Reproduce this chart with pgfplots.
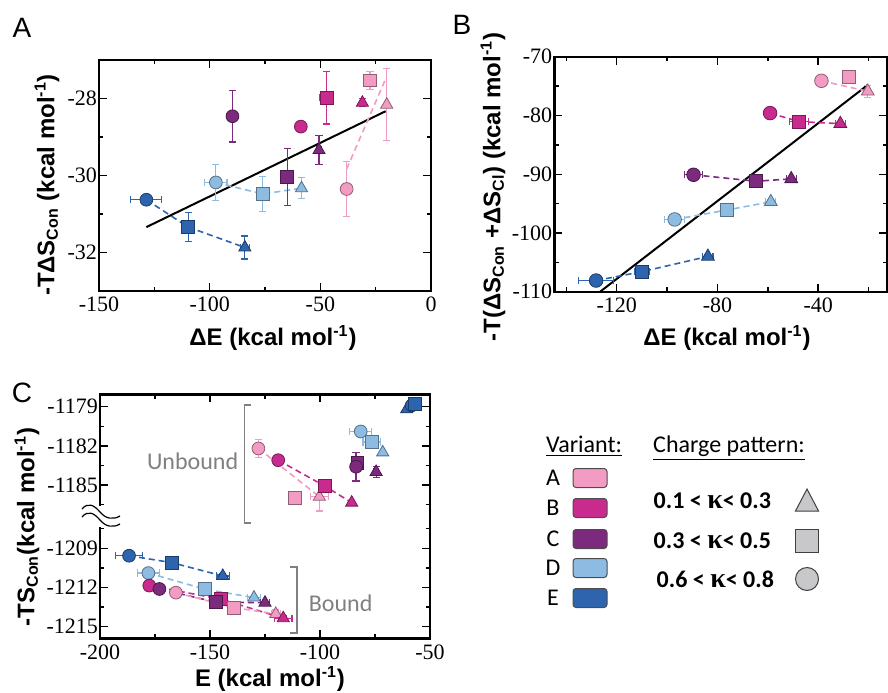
\documentclass[border=0pt]{standalone}
\usepackage{fontspec}
\setmainfont{Liberation Serif}
\setsansfont{Liberation Sans}
\newfontfamily\calib{Carlito}
\newfontfamily\tms{Liberation Serif}
\usepackage{pgfplots}
\pgfplotsset{compat=1.18}

\definecolor{cA}{HTML}{F29BC3}
\definecolor{cB}{HTML}{C82A8E}
\definecolor{cC}{HTML}{7B2A7E}
\definecolor{cD}{HTML}{8DBBE2}
\definecolor{cE}{HTML}{2D64AD}
\definecolor{lgray}{HTML}{C8C8CA}

% pixel position of the reference -> picture coordinates
\newcommand\px[2]{({(#1)*0.5pt},{(692-(#2))*0.5pt})}

\pgfplotsset{
  panel/.style={scale only axis, anchor=south west, clip=false,
    axis line style={line width=1.2pt},
    tick align=inside, major tick length=4pt, minor tick length=2.2pt,
    every tick/.style={black, line width=0.7pt},
    tick label style={font=\tms\fontsize{11}{12}\selectfont},
    yticklabel style={xshift=2.5pt}, xticklabel style={yshift=0.5pt}},
  mk/.style={only marks, color=#1, mark size=3.2pt,
    mark options={fill=#1, draw=#1!60!black, line width=0.4pt},
    error bars/x dir=both, error bars/x explicit,
    error bars/y dir=both, error bars/y explicit,
    error bars/error bar style={#1, line width=0.6pt},
    error bars/error mark options={#1, rotate=90, mark size=1.8pt, line width=0.6pt}},
  ln/.style={#1, line width=0.8pt, dash pattern=on 3pt off 2pt, mark=none},
  up/.style={y filter/.expression={y-19.15}},
}
\tikzset{lab/.style={font=\sffamily\bfseries\fontsize{12}{14}\selectfont}}

\begin{document}
\begin{tikzpicture}
\useasboundingbox (0,0) rectangle (444pt,346pt);

% ---------------- panel A
\begin{axis}[panel, at={(49.5pt,200.5pt)}, width=166pt, height=115.5pt,
  xmin=-150, xmax=0, ymin=-33, ymax=-27,
  xtick={-150,-100,-50,0}, xticklabels={-150,-100,-50,0}, minor xtick={-125,-75,-25},
  ytick={-32,-30,-28}, yticklabels={-32,-30,-28}, minor ytick={-31,-29}]
\addplot[black, line width=1pt] coordinates {(-128.6,-31.34) (-20.5,-28.33)};
\addplot[ln=cE] coordinates {(-128.6,-30.63) (-109.7,-31.34) (-84.1,-31.87)};
\addplot[ln=cD] coordinates {(-97.2,-30.18) (-76.1,-30.48) (-58.5,-30.33)};
\addplot[ln=cA] coordinates {(-38.1,-29.83) (-20.8,-27.53)};
\addplot[mk=cE, mark=*] coordinates {(-128.6,-30.63) +- (7,0)};
\addplot[mk=cE, mark=square*] coordinates {(-109.7,-31.34) +- (1.5,0.37)};
\addplot[mk=cE, mark=triangle*, mark size=3.5pt] coordinates {(-84.1,-31.87) +- (2,0.30)};
\addplot[mk=cD, mark=*] coordinates {(-97.2,-30.18) +- (5,0.47)};
\addplot[mk=cD, mark=square*] coordinates {(-76.1,-30.48) +- (0,0.46)};
\addplot[mk=cD, mark=triangle*, mark size=3.5pt] coordinates {(-58.5,-30.33) +- (0,0.27)};
\addplot[mk=cC, mark=*] coordinates {(-89.7,-28.46) +- (2,0.67)};
\addplot[mk=cC, mark=square*] coordinates {(-65,-30.03) +- (1,0.74)};
\addplot[mk=cC, mark=triangle*, mark size=3.5pt] coordinates {(-50.6,-29.34) +- (1,0.38)};
\addplot[mk=cB, mark=*] coordinates {(-58.8,-28.73) +- (1.5,0)};
\addplot[mk=cB, mark=square*] coordinates {(-47.2,-27.98) +- (3,0.68)};
\addplot[mk=cB, mark=triangle*, mark size=3.5pt] coordinates {(-31,-28.11) +- (1,0.1)};
\addplot[mk=cA, mark=*] coordinates {(-38.1,-30.35) +- (0,0.71)};
\addplot[mk=cA, mark=square*] coordinates {(-27.6,-27.53) +- (0,0.24)};
\addplot[mk=cA, mark=triangle*, mark size=3.5pt] coordinates {(-20,-28.16) +- (0,0.94)};
\end{axis}

% ---------------- panel B
\begin{axis}[panel, at={(277.15pt,200.15pt)}, width=166.3pt, height=117.5pt,
  xmin=-144.8, xmax=-12.7, ymin=-110, ymax=-70,
  xtick={-120,-80,-40}, xticklabels={-120,-80,-40}, minor xtick={-140,-100,-60,-20},
  ytick={-110,-100,-90,-80,-70}, yticklabels={-110,-100,-90,-80,-70},
  minor ytick={-105,-95,-85,-75}]
\addplot[black, line width=1pt] coordinates {(-126.6,-110) (-20.3,-74.8)};
\addplot[ln=cA] coordinates {(-38.7,-74.1) (-20.3,-75.9)};
\addplot[ln=cB] coordinates {(-59.1,-79.6) (-47.6,-81.05) (-31.2,-81.4)};
\addplot[ln=cC] coordinates {(-89.5,-90.1) (-64.7,-91.2) (-50.7,-90.8)};
\addplot[ln=cD] coordinates {(-97,-97.7) (-76.3,-96.1) (-58.8,-94.7)};
\addplot[ln=cE] coordinates {(-128.2,-108.1) (-110.1,-106.6) (-83.8,-104)};
\addplot[mk=cA, mark=*, mark size=3.4pt] coordinates {(-38.7,-74.1) +- (0,0)};
\addplot[mk=cA, mark=square*] coordinates {(-27.9,-73.4) +- (1,0.3)};
\addplot[mk=cA, mark=triangle*, mark size=3.7pt] coordinates {(-20.3,-75.9) +- (1,1)};
\addplot[mk=cB, mark=*, mark size=3.4pt] coordinates {(-59.1,-79.6) +- (2,0.3)};
\addplot[mk=cB, mark=square*] coordinates {(-47.6,-81.05) +- (3.8,0.3)};
\addplot[mk=cB, mark=triangle*, mark size=3.7pt] coordinates {(-31.2,-81.4) +- (2,0.3)};
\addplot[mk=cC, mark=*, mark size=3.4pt] coordinates {(-89.5,-90.1) +- (3.6,0.3)};
\addplot[mk=cC, mark=square*] coordinates {(-64.7,-91.2) +- (2,0.3)};
\addplot[mk=cC, mark=triangle*, mark size=3.7pt] coordinates {(-50.7,-90.8) +- (2,0.3)};
\addplot[mk=cD, mark=*, mark size=3.4pt] coordinates {(-97,-97.7) +- (4,0.3)};
\addplot[mk=cD, mark=square*] coordinates {(-76.3,-96.1) +- (1.5,0)};
\addplot[mk=cD, mark=triangle*, mark size=3.7pt] coordinates {(-58.8,-94.7) +- (2,0.3)};
\addplot[mk=cE, mark=*, mark size=3.4pt] coordinates {(-128.2,-108.1) +- (7,0.3)};
\addplot[mk=cE, mark=square*] coordinates {(-110.1,-106.6) +- (3,0.3)};
\addplot[mk=cE, mark=triangle*, mark size=3.7pt] coordinates {(-83.8,-104) +- (2,0.3)};
\end{axis}

% ---------------- panel C (broken y axis: unbound values shifted by 'up')
\begin{axis}[panel, at={(50pt,26.85pt)}, width=165pt, height=122pt,
  xmin=-200, xmax=-50, ymin=-1215.9, ymax=-1197.2,
  xtick={-200,-150,-100,-50}, xticklabels={-200,-150,-100,-50}, minor xtick={-175,-125,-75},
  ytick={-1215,-1212,-1209,-1204.15,-1201.15,-1198.15},
  yticklabels={-1215,-1212,-1209,-1185,-1182,-1179},
  minor ytick={-1213.5,-1210.5,-1207.5,-1205.65,-1202.65,-1199.65}]
% bound
\addplot[ln=cE] coordinates {(-186.8,-1209.57) (-167.4,-1210.1) (-144.2,-1211.12)};
\addplot[ln=cD] coordinates {(-178,-1210.9) (-152.3,-1212.14) (-130,-1212.78)};
\addplot[ln=cC] coordinates {(-173,-1212.12) (-147.3,-1213.13) (-125,-1213.17)};
\addplot[ln=cB] coordinates {(-177.6,-1211.86) (-145,-1212.9) (-116.7,-1214.36)};
\addplot[ln=cA] coordinates {(-165.5,-1212.4) (-139.1,-1213.55) (-120.1,-1214.03)};
\addplot[mk=cE, mark=*] coordinates {(-186.8,-1209.57) +- (6,0)};
\addplot[mk=cE, mark=square*] coordinates {(-167.4,-1210.1) +- (2,0.2)};
\addplot[mk=cE, mark=triangle*, mark size=3.5pt] coordinates {(-144.2,-1211.12) +- (3,0.2)};
\addplot[mk=cD, mark=*] coordinates {(-178,-1210.9) +- (5,0)};
\addplot[mk=cD, mark=square*] coordinates {(-152.3,-1212.14) +- (0,0)};
\addplot[mk=cD, mark=triangle*, mark size=3.5pt] coordinates {(-130,-1212.78) +- (3,0)};
\addplot[mk=cB, mark=*] coordinates {(-177.6,-1211.86) +- (2,0.2)};
\addplot[mk=cC, mark=*] coordinates {(-173,-1212.12) +- (1,0.2)};
\addplot[mk=cA, mark=*] coordinates {(-165.5,-1212.4) +- (2,0.2)};
\addplot[mk=cB, mark=square*] coordinates {(-145,-1212.9) +- (1,0.3)};
\addplot[mk=cC, mark=square*] coordinates {(-147.3,-1213.13) +- (1,0.2)};
\addplot[mk=cA, mark=square*] coordinates {(-139.1,-1213.55) +- (0,0)};
\addplot[mk=cC, mark=triangle*, mark size=3.5pt] coordinates {(-125,-1213.17) +- (2,0)};
\addplot[mk=cA, mark=triangle*, mark size=3.5pt] coordinates {(-120.1,-1214.03) +- (2,0.3)};
\addplot[mk=cB, mark=triangle*, mark size=3.5pt] coordinates {(-116.7,-1214.36) +- (4,0.2)};
% unbound
\addplot[ln=cA, up] coordinates {(-128,-1182.2) (-100.3,-1185.9)};
\addplot[ln=cB, up] coordinates {(-119,-1183.1) (-97.7,-1185.1) (-85.6,-1186.35)};
\addplot[mk=cA, up, mark=*] coordinates {(-128,-1182.2) +- (2,0.7)};
\addplot[mk=cB, up, mark=*] coordinates {(-119,-1183.1) +- (0,0)};
\addplot[mk=cA, up, mark=square*] coordinates {(-111.4,-1186) +- (0,0)};
\addplot[mk=cA, up, mark=triangle*, mark size=3.5pt] coordinates {(-100.3,-1185.9) +- (4,1.1)};
\addplot[mk=cB, up, mark=square*] coordinates {(-97.7,-1185.1) +- (0,0)};
\addplot[mk=cB, up, mark=triangle*, mark size=3.5pt] coordinates {(-85.6,-1186.35) +- (0,0)};
\addplot[mk=cC, up, mark=square*] coordinates {(-83,-1183.3) +- (2,0.5)};
\addplot[mk=cC, up, mark=*] coordinates {(-83.6,-1183.6) +- (2.5,1.1)};
\addplot[mk=cC, up, mark=triangle*, mark size=3.5pt] coordinates {(-74.5,-1184) +- (1,0.4)};
\addplot[mk=cD, up, mark=*] coordinates {(-81.5,-1180.9) +- (5,0.3)};
\addplot[mk=cD, up, mark=square*] coordinates {(-76.5,-1181.7) +- (4,0.4)};
\addplot[mk=cD, up, mark=triangle*, mark size=3.5pt] coordinates {(-71.5,-1182.5) +- (0,0)};
\addplot[mk=cE, up, mark=triangle*, mark size=3.5pt] coordinates {(-60.6,-1179.2) +- (0,0)};
\addplot[mk=cE, up, mark=*] coordinates {(-58.3,-1178.9) +- (0,0)};
\addplot[mk=cE, up, mark=square*] coordinates {(-56.8,-1178.8) +- (0,0)};
% brackets and their labels
\draw[gray, line width=0.7pt] (axis cs:-131.4,-1198.03) -- (axis cs:-134.3,-1198.03)
  -- (axis cs:-134.3,-1207.06) -- (axis cs:-131.4,-1207.06);
\draw[gray, line width=0.7pt] (axis cs:-113.6,-1210.43) -- (axis cs:-110.5,-1210.43)
  -- (axis cs:-110.5,-1215.49) -- (axis cs:-113.6,-1215.49);
\node[gray, font=\calib\fontsize{12}{14}\selectfont] at (axis cs:-157.9,-1202.3) {Unbound};
\node[gray, font=\calib\fontsize{12}{14}\selectfont] at (axis cs:-90.6,-1213.2) {Bound};
\end{axis}

% axis break mark
\fill[white] \px{96}{506} rectangle \px{104}{527};
\draw[black, line width=0.6pt] \px{82}{509} .. controls \px{88}{502} and \px{94}{505} .. \px{100}{512}
  .. controls \px{106}{519} and \px{113}{520} .. \px{120}{516};
\draw[black, line width=0.6pt] \px{82}{517} .. controls \px{88}{510} and \px{94}{513} .. \px{100}{520}
  .. controls \px{106}{527} and \px{113}{528} .. \px{120}{524};

% axis titles
\node[lab, anchor=base] at \px{273}{345} {ΔE (kcal mol\textsuperscript{-1})};
\node[lab, rotate=90] at \px{47}{185} {-TΔS\textsubscript{Con} (kcal mol\textsuperscript{-1})};
\node[lab, anchor=base] at \px{727}{345} {ΔE (kcal mol\textsuperscript{-1})};
\node[lab, rotate=90] at \px{493}{187} {-T(ΔS\textsubscript{Con} +ΔS\textsubscript{Cl}) (kcal mol\textsuperscript{-1})};
\node[lab, anchor=base] at \px{270}{686} {E (kcal mol\textsuperscript{-1})};
\node[lab, rotate=90] at \px{27}{527} {-TS\textsubscript{Con}(kcal mol\textsuperscript{-1})};

% panel letters
\node[font=\sffamily\fontsize{14}{16}\selectfont] at \px{22}{27.5} {A};
\node[font=\sffamily\fontsize{14}{16}\selectfont] at \px{462}{25} {B};
\node[font=\sffamily\fontsize{14}{16}\selectfont] at \px{22}{393} {C};

% legend
\begin{scope}[font=\calib\fontsize{12}{14}\selectfont]
\node[anchor=base] at \px{584}{452} {\underline{Variant:}};
\node[anchor=base] at \px{729}{452} {\underline{Charge pattern:}};
\foreach \l/\c/\y in {A/cA/478, B/cB/508, C/cC/539, D/cD/568, E/cE/598} {
  \node[anchor=base] at \px{553}{\y+7.5} {\l};
  \draw[fill=\c, draw=black!70, line width=0.5pt, rounded corners=1.5pt]
    \px{573}{\y-9.5} rectangle \px{607}{\y+9.5};
}
\node[anchor=base east, font=\calib\bfseries\fontsize{12}{14}\selectfont] at \px{778}{508}
  {0.1 < {\tms\fontsize{14}{14}\selectfont κ}< 0.3};
\node[anchor=base east, font=\calib\bfseries\fontsize{12}{14}\selectfont] at \px{778}{548}
  {0.3 < {\tms\fontsize{14}{14}\selectfont κ}< 0.5};
\node[anchor=base east, font=\calib\bfseries\fontsize{12}{14}\selectfont] at \px{781}{587}
  {0.6 < {\tms\fontsize{14}{14}\selectfont κ}< 0.8};
\draw[fill=lgray, draw=black!75, line width=0.5pt] \px{795.5}{511} -- \px{818.5}{511} -- \px{807}{489} -- cycle;
\draw[fill=lgray, draw=black!75, line width=0.5pt] \px{795}{529} rectangle \px{818}{552};
\draw[fill=lgray, draw=black!75, line width=0.5pt] \px{807}{579} circle (5.75pt);
\end{scope}
\end{tikzpicture}
\end{document}
